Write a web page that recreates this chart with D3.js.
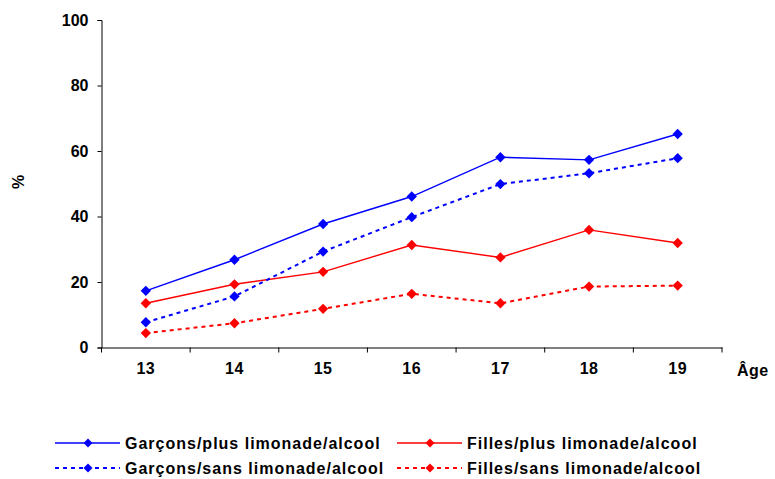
<!DOCTYPE html>
<html>
<head>
<meta charset="utf-8">
<script src="https://cdn.jsdelivr.net/npm/d3@7"></script>
<style>
  body { margin: 0; background: #fff; }
  text { font-family: "Liberation Sans", Arial, sans-serif; font-weight: bold; }
</style>
</head>
<body>
<div id="chart"></div>
<script>
const ages = ["13", "14", "15", "16", "17", "18", "19"];
const garconsPlus = [17.3, 26.8, 37.7, 46.1, 58.1, 57.3, 65.2];
const garconsSans = [7.7, 15.6, 29.3, 39.8, 49.9, 53.2, 57.8];
const fillesPlus = [13.5, 19.3, 23.1, 31.3, 27.5, 35.9, 31.9];
const fillesSans = [4.4, 7.4, 11.8, 16.4, 13.5, 18.6, 18.9];
const yTicks = [0, 20, 40, 60, 80, 100];

const series = [
  { name: "Garçons/plus limonade/alcool", values: garconsPlus, color: "#0000ff", dash: null },
  { name: "Filles/plus limonade/alcool", values: fillesPlus, color: "#ff0000", dash: null },
  { name: "Garçons/sans limonade/alcool", values: garconsSans, color: "#0000ff", dash: "4,4" },
  { name: "Filles/sans limonade/alcool", values: fillesSans, color: "#ff0000", dash: "4,4" }
];

const width = 775, height = 479;
const svg = d3.select("#chart").append("svg")
  .attr("width", width)
  .attr("height", height);

const x = d3.scaleBand().domain(ages).range([101.5, 722]);
const y = d3.scaleLinear().domain([0, 100]).range([347.5, 20]);

// axes
const yAxis = svg.append("g")
  .attr("transform", "translate(101.5,0)")
  .call(d3.axisLeft(y).tickValues(yTicks).tickSize(4).tickPadding(9));
yAxis.selectAll("text").style("font-size", "16px").attr("fill", "#000");
yAxis.selectAll("line, path").attr("stroke", "#000");

const xAxis = svg.append("g")
  .attr("transform", "translate(0,347.5)")
  .call(d3.axisBottom(x).tickSize(0).tickPadding(15));
xAxis.selectAll("text").style("font-size", "16px").style("letter-spacing", "0.5px").attr("fill", "#000");
xAxis.select("path").attr("stroke", "#000");
// ticks between categories
xAxis.selectAll(".sep")
  .data(ages.concat(["end"]))
  .enter().append("line")
    .attr("x1", (d, i) => x.range()[0] + i * x.step())
    .attr("x2", (d, i) => x.range()[0] + i * x.step())
    .attr("y1", 0).attr("y2", 5)
    .attr("stroke", "#000");

svg.append("text")
  .attr("x", 737).attr("y", 376)
  .style("font-size", "16px")
  .style("letter-spacing", "0.5px")
  .text("Âge");

svg.append("text")
  .attr("transform", "translate(24,182) rotate(-90)")
  .attr("text-anchor", "middle")
  .style("font-size", "16px")
  .text("%");

const line = d3.line()
  .x((d, i) => x(ages[i]) + x.bandwidth() / 2)
  .y(d => y(d));

const diamond = d3.symbol().type(d3.symbolDiamond2);

series.forEach(s => {
  svg.append("path")
    .datum(s.values)
    .attr("d", line)
    .attr("fill", "none")
    .attr("stroke", s.color)
    .attr("stroke-width", s.dash ? 2 : 1.4)
    .attr("stroke-dasharray", s.dash);

  svg.selectAll(null)
    .data(s.values)
    .enter().append("path")
      .attr("d", diamond.size(68)())
      .attr("transform", (d, i) => `translate(${x(ages[i]) + x.bandwidth() / 2},${y(d)})`)
      .attr("fill", s.color);
});

// legend
const legendPos = [
  { lx: 55, ly: 443 },
  { lx: 397, ly: 443 },
  { lx: 55, ly: 468 },
  { lx: 397, ly: 468 }
];
series.forEach((s, i) => {
  const p = legendPos[i];
  const g = svg.append("g").attr("transform", `translate(${p.lx},${p.ly})`);
  g.append("line")
    .attr("x1", 0).attr("x2", 65)
    .attr("y1", 0).attr("y2", 0)
    .attr("stroke", s.color)
    .attr("stroke-width", s.dash ? 2 : 1.4)
    .attr("stroke-dasharray", s.dash);
  g.append("path")
    .attr("d", diamond.size(52)())
    .attr("transform", "translate(33,0)")
    .attr("fill", s.color);
  g.append("text")
    .attr("x", 70).attr("y", 6)
    .style("font-size", "16px")
    .style("letter-spacing", "1px")
    .text(s.name);
});
</script>
</body>
</html>
